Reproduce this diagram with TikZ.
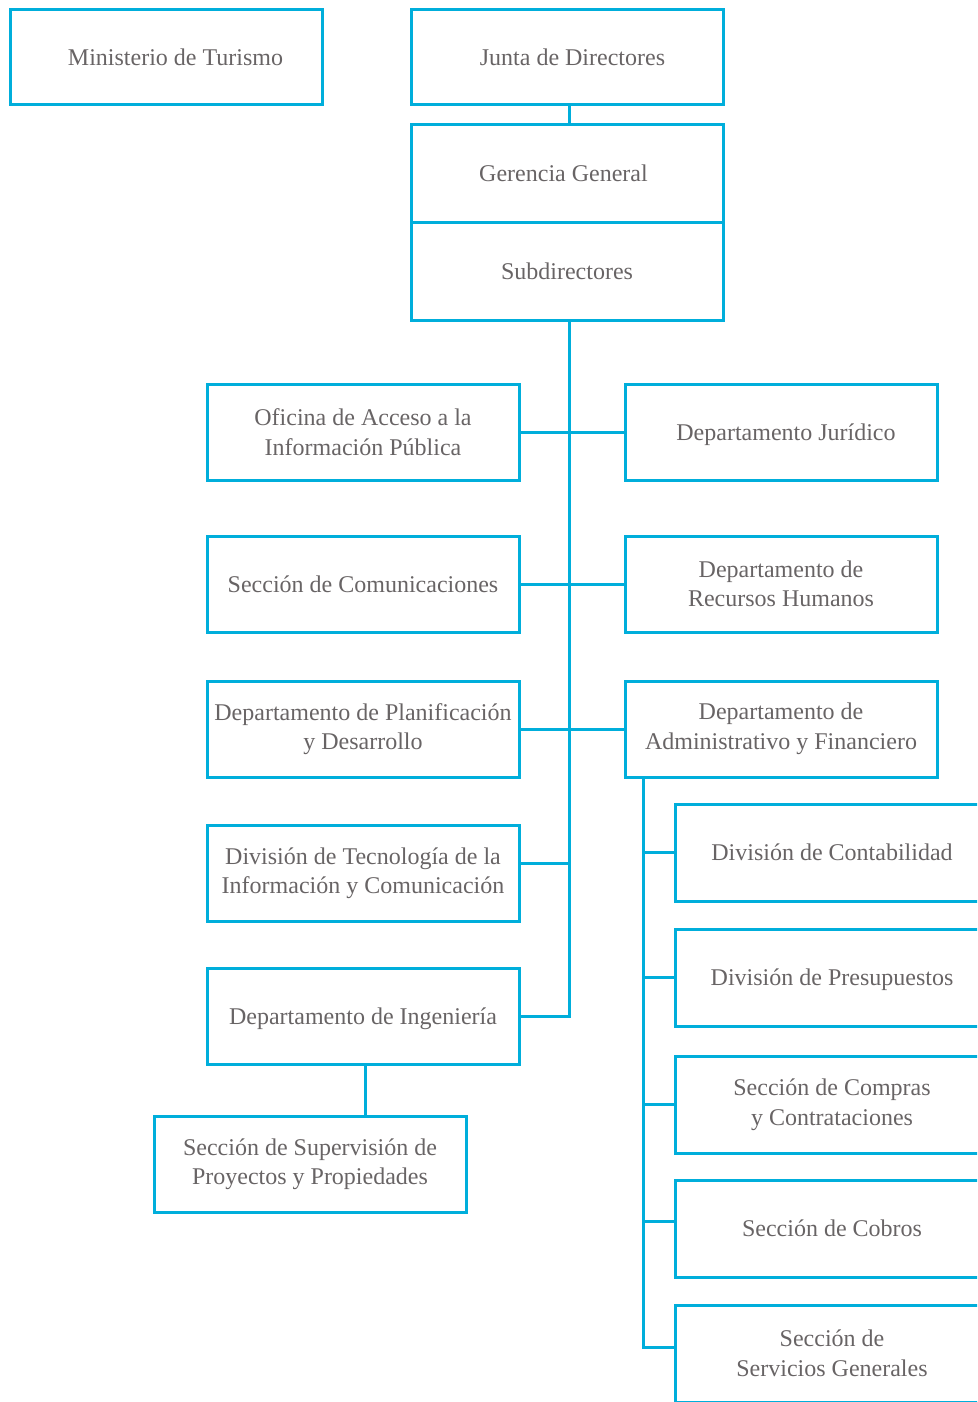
\documentclass[tikz,border=0pt]{standalone}
\usepackage{fontspec}
\setmainfont{Liberation Serif}
\definecolor{boxblue}{RGB}{0,174,219}
\definecolor{txtgray}{RGB}{104,100,101}
\tikzset{
  orgbox/.style={draw=boxblue, line width=3pt, rectangle, minimum width=312pt, minimum height=96pt,
    inner sep=0pt, align=center, text=txtgray, font=\fontsize{24}{29.5}\selectfont},
  single/.style={text height=17pt, text depth=1pt},
  widebox/.style={orgbox, minimum width=314pt, minimum height=97pt},
  link/.style={draw=boxblue, line width=3pt, line join=miter}
}
\begin{document}
\begin{tikzpicture}[x=1pt,y=-1pt]
\useasboundingbox (0,0) rectangle (977,1402);
\clip (0,0) rectangle (977,1402);
% boxes
\node[orgbox, single, minimum height=95pt] (min) at (166,57.5) {\kern19pt Ministerio de Turismo};
\node[orgbox, single, minimum height=95pt] (jun) at (567,57.5) {\kern11pt Junta de Directores};
\node[orgbox, single, minimum height=97pt] (ger) at (567,173.5) {Gerencia General\kern7pt};
\node[orgbox, single, minimum height=98pt] (sub) at (567,271) {Subdirectores};
\node[orgbox] (ofi) at (363,432) {Oficina de Acceso a la\\Información Pública};
\node[orgbox, single] (jur) at (781,432) {\kern10pt Departamento Jurídico};
\node[orgbox, single] (com) at (363,584) {Sección de Comunicaciones};
\node[orgbox] (rrh) at (781,584) {Departamento de\\Recursos Humanos};
\node[orgbox] (pla) at (363,729) {Departamento de Planificación\\y Desarrollo};
\node[orgbox] (adm) at (781,729) {Departamento de\\Administrativo y Financiero};
\node[orgbox] (tec) at (363,873) {División de Tecnología de la\\Información y Comunicación};
\node[orgbox, single] (ing) at (363,1016) {Departamento de Ingeniería};
\node[orgbox] (sup) at (310,1164) {Sección de Supervisión de\\Proyectos y Propiedades};
\node[widebox, single] (con) at (832,852.5) {División de Contabilidad};
\node[widebox, single] (pre) at (832,977.5) {División de Presupuestos};
\node[widebox] (cmp) at (832,1104.5) {Sección de Compras\\y Contrataciones};
\node[widebox, single] (cob) at (832,1228.5) {Sección de Cobros};
\node[widebox] (ser) at (832,1353.5) {Sección de\\Servicios Generales};
% junction coordinates
\coordinate (t0) at (569,320);
\coordinate (tj) at (569,863);
\coordinate (s0) at (643,777);
\coordinate (s4) at (643,1221);
\coordinate (s5) at (643,1347);
\coordinate (ij) at (365,1064);
% connectors
\draw[link] (jun.south -| t0) -- (ger.north -| t0);
\draw[link] (t0) -- (t0 |- ing.east) -- (ing.east);
\draw[link] (ofi.east) -- (jur.west);
\draw[link] (com.east) -- (rrh.west);
\draw[link] (pla.east) -- (adm.west);
\draw[link] (tj) -- (tj -| tec.east);
\draw[link] (ij) -- (ij |- sup.north);
\draw[link] (s0) -- (s5) -- (s5 -| ser.west);
\draw[link] (s0 |- con.west) -- (con.west);
\draw[link] (s0 |- pre.west) -- (pre.west);
\draw[link] (s0 |- cmp.west) -- (cmp.west);
\draw[link] (s4) -- (s4 -| cob.west);
\end{tikzpicture}
\end{document}
